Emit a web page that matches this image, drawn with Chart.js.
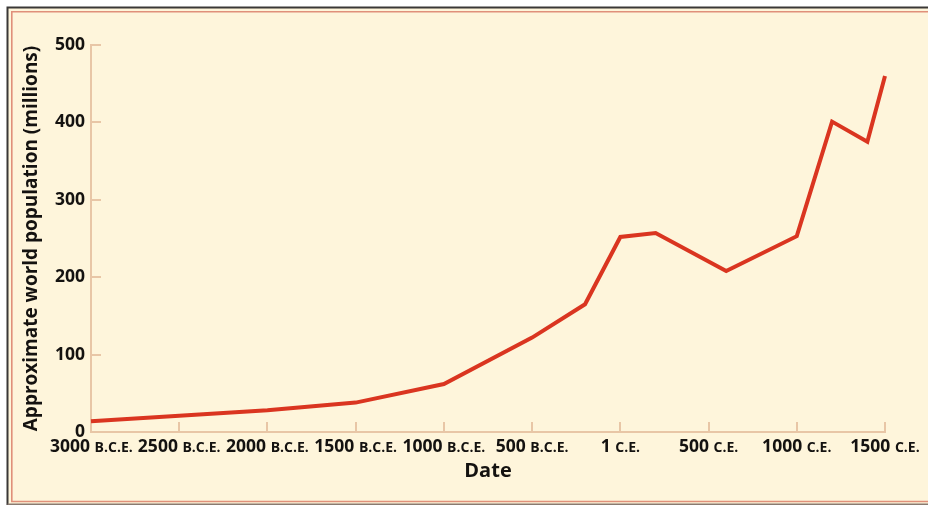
<!DOCTYPE html>
<html><head><meta charset="utf-8">
<script src="https://cdn.jsdelivr.net/npm/chart.js@4/dist/chart.umd.min.js"></script>
<style>html,body{margin:0;padding:0;background:#fff;}#wrap{width:928px;height:506px;}canvas{display:block;}</style>
</head><body><div id="wrap"><canvas id="c" width="928" height="506"></canvas></div>
<script>
// Year (1 C.E. placed at 0) and approximate world population in millions
const years = [-3000, -2500, -2000, -1500, -1000, -500, -200, 0, 200, 600, 1000, 1200, 1400, 1500];
const population = [14, 21, 28, 38, 62, 122, 165, 252, 257, 208, 253, 401, 375, 460];
const xTickValues = [-3000, -2500, -2000, -1500, -1000, -500, 0, 500, 1000, 1500];
const xTickNumbers = ['3000', '2500', '2000', '1500', '1000', '500', '1', '500', '1000', '1500'];
const xTickEras = ['B.C.E.', 'B.C.E.', 'B.C.E.', 'B.C.E.', 'B.C.E.', 'B.C.E.', 'C.E.', 'C.E.', 'C.E.', 'C.E.'];
const yTickValues = [0, 100, 200, 300, 400, 500];

const FONT = '"Open Sans", "Noto Sans", sans-serif';
const INK = '#141210';
const AXIS = '#e8c6a6';
const LINE = '#da3520';

const framePlugin = {
  id: 'frame',
  beforeDraw(chart) {
    const ctx = chart.ctx, W = chart.width, H = chart.height;
    ctx.save();
    ctx.fillStyle = '#ffffff';
    ctx.fillRect(0, 0, W, H);
    ctx.fillStyle = '#fef5db';
    ctx.fillRect(7, 7, W, H - 2 - 7);
    ctx.strokeStyle = '#3a3836';
    ctx.lineWidth = 2;
    ctx.beginPath();
    ctx.moveTo(W + 2, 7.5); ctx.lineTo(7.5, 7.5); ctx.lineTo(7.5, 505); ctx.stroke();
    ctx.strokeStyle = '#8a7a70';
    ctx.lineWidth = 1.5;
    ctx.beginPath(); ctx.moveTo(7.5, 504.2); ctx.lineTo(W + 2, 504.2); ctx.stroke();
    ctx.strokeStyle = '#e0907a';
    ctx.lineWidth = 1.6;
    ctx.beginPath();
    ctx.moveTo(W + 2, 11.8); ctx.lineTo(11.8, 11.8); ctx.lineTo(11.8, 501.5); ctx.lineTo(W + 2, 501.5); ctx.stroke();
    ctx.restore();
  }
};

const ticksPlugin = {
  id: 'inTicks',
  afterDraw(chart) {
    const ctx = chart.ctx, xs = chart.scales.x, ys = chart.scales.y;
    const area = chart.chartArea;
    ctx.save();
    ctx.strokeStyle = AXIS;
    ctx.lineWidth = 2;
    ctx.beginPath();
    ys.ticks.forEach(t => {
      const y = Math.round(ys.getPixelForValue(t.value));
      if (t.value === 0) return;
      ctx.moveTo(area.left, y); ctx.lineTo(area.left + 10, y);
    });
    xs.ticks.forEach(t => {
      const x = Math.round(xs.getPixelForValue(t.value));
      if (t.value === xs.min) return;
      ctx.moveTo(x, area.bottom); ctx.lineTo(x, area.bottom - 10);
    });
    ctx.stroke();
    // x tick labels: bold number + small-caps era
    const numFont = 'bold 17.5px ' + FONT;
    const eraFont = 'bold 14px ' + FONT;
    ctx.fillStyle = INK;
    ctx.textBaseline = 'alphabetic';
    ctx.textAlign = 'left';
    xs.ticks.forEach(t => {
      const i = xTickValues.indexOf(t.value);
      if (i < 0) return;
      const num = xTickNumbers[i], era = xTickEras[i];
      ctx.font = numFont;
      const wn = ctx.measureText(num + ' ').width;
      ctx.font = eraFont;
      const we = ctx.measureText(era).width;
      const cx = xs.getPixelForValue(t.value);
      let left = cx - (wn + we) / 2;
      if (left < 50) left = 50;
      ctx.font = numFont;
      ctx.fillText(num, left, area.bottom + 20);
      ctx.font = eraFont;
      ctx.fillText(era, left + wn, area.bottom + 20);
    });
    ctx.restore();
  }
};

new Chart(document.getElementById('c'), {
  type: 'line',
  data: {
    datasets: [{
      data: years.map((y, i) => ({ x: y, y: population[i] })),
      borderColor: LINE,
      borderWidth: 4,
      borderJoinStyle: 'miter',
      borderCapStyle: 'butt',
      tension: 0,
      pointRadius: 0,
      fill: false,
      clip: false
    }]
  },
  options: {
    responsive: false,
    animation: false,
    devicePixelRatio: 1,
    layout: { padding: { top: 45, right: 43, left: 0, bottom: 0 } },
    plugins: { legend: { display: false }, tooltip: { enabled: false } },
    scales: {
      x: {
        type: 'linear',
        min: -3000, max: 1500,
        afterBuildTicks: s => { s.ticks = xTickValues.map(v => ({ value: v })); },
        afterFit: s => { s.height = 74; },
        ticks: { display: false },
        grid: { display: false, drawTicks: false },
        border: { display: true, color: AXIS, width: 2 },
        title: { display: true, text: 'Date', color: INK, font: { family: FONT, size: 20, weight: 'bold' }, padding: { top: 0, bottom: 23 } }
      },
      y: {
        type: 'linear',
        min: 0, max: 500,
        afterBuildTicks: s => { s.ticks = yTickValues.map(v => ({ value: v })); },
        afterFit: s => { s.width = 91; },
        ticks: { color: INK, padding: 6, font: { family: FONT, size: 17.5, weight: 'bold' } },
        grid: { display: false, drawTicks: false },
        border: { display: true, color: AXIS, width: 2 },
        title: { display: true, text: 'Approximate world population (millions)', color: INK, font: { family: FONT, size: 19, weight: 'bold' }, padding: { top: 20.5, bottom: 0 } }
      }
    }
  },
  plugins: [framePlugin, ticksPlugin]
});
</script></body></html>
